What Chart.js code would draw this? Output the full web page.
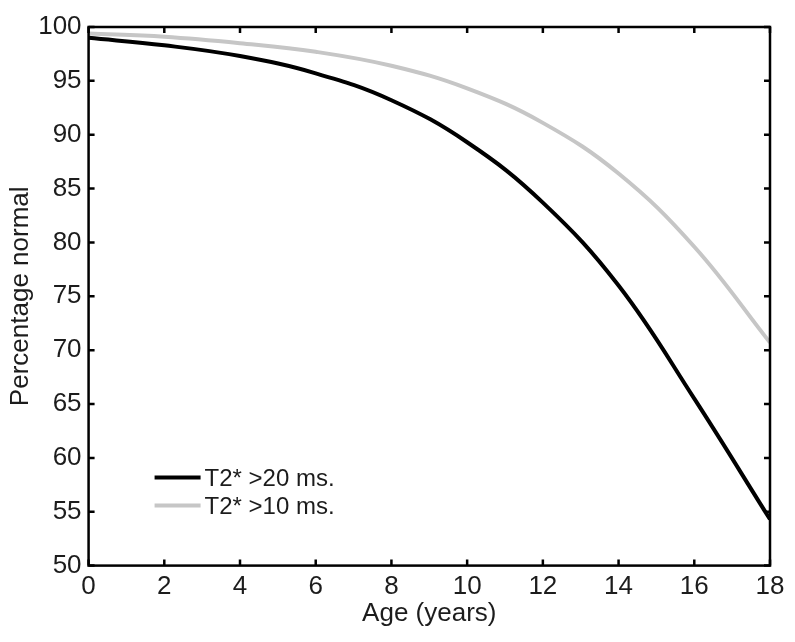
<!DOCTYPE html>
<html>
<head>
<meta charset="utf-8">
<script src="https://cdn.jsdelivr.net/npm/chart.js@4"></script>
<style>
  html, body { margin: 0; padding: 0; background: #fff; }
  #wrap { width: 795px; height: 642px; }
</style>
</head>
<body>
<div id="wrap"><canvas id="ageChart" width="795" height="642"></canvas></div>
<script>
// values
const ages = [0, 2, 4, 6, 8, 10, 12, 14, 16, 18];
const over20 = [99.0, 98.3, 97.3, 95.7, 93.2, 89.3, 83.7, 76.0, 65.5, 54.3];
const over10 = [99.4, 99.1, 98.5, 97.7, 96.4, 94.3, 91.1, 86.4, 79.6, 70.7];
const seriesNames = ['T2* >20 ms.', 'T2* >10 ms.'];
const xTicks = [0, 2, 4, 6, 8, 10, 12, 14, 16, 18];
const yTicks = [50, 55, 60, 65, 70, 75, 80, 85, 90, 95, 100];

const FONT = "'Liberation Sans', Arial, sans-serif";
const INK = '#1c1c1c';

const toPoints = (vals) => vals.map((v, i) => ({ x: ages[i], y: v }));

// MATLAB style box with inward ticks on all four sides
const boxTicks = {
  id: 'boxTicks',
  afterDatasetsDraw(chart) {
    const { ctx, chartArea: a, scales } = chart;
    const len = 6;
    ctx.save();
    ctx.strokeStyle = '#000';
    ctx.lineWidth = 2.5;
    ctx.beginPath();
    xTicks.forEach(v => {
      const px = scales.x.getPixelForValue(v);
      ctx.moveTo(px, a.bottom); ctx.lineTo(px, a.bottom - len);
      ctx.moveTo(px, a.top); ctx.lineTo(px, a.top + len);
    });
    yTicks.forEach(v => {
      const py = scales.y.getPixelForValue(v);
      ctx.moveTo(a.left, py); ctx.lineTo(a.left + len, py);
      ctx.moveTo(a.right, py); ctx.lineTo(a.right - len, py);
    });
    ctx.stroke();
    ctx.strokeRect(a.left, a.top, a.right - a.left, a.bottom - a.top);
    ctx.restore();
  }
};

// legend sits inside the plot, lower left
const innerLegend = {
  id: 'innerLegend',
  afterDatasetsDraw(chart) {
    const { ctx, chartArea: a } = chart;
    const x0 = a.left + 66;
    let y = a.bottom - 88;
    ctx.save();
    ctx.font = '24px ' + FONT;
    ctx.textBaseline = 'middle';
    chart.data.datasets.forEach(ds => {
      ctx.strokeStyle = ds.borderColor;
      ctx.lineWidth = ds.borderWidth;
      ctx.beginPath();
      ctx.moveTo(x0, y);
      ctx.lineTo(x0 + 46, y);
      ctx.stroke();
      ctx.fillStyle = INK;
      ctx.fillText(ds.label, x0 + 50, y + 2);
      y += 28;
    });
    ctx.restore();
  }
};

new Chart(document.getElementById('ageChart'), {
  type: 'line',
  data: {
    datasets: [
      {
        label: seriesNames[0],
        data: toPoints(over20),
        borderColor: '#000',
        borderWidth: 4,
        pointRadius: 0,
        tension: 0.4
      },
      {
        label: seriesNames[1],
        data: toPoints(over10),
        borderColor: '#c6c6c6',
        borderWidth: 4,
        pointRadius: 0,
        tension: 0.4
      }
    ]
  },
  options: {
    responsive: false,
    animation: false,
    layout: { padding: { top: 27, right: 25, left: 0, bottom: 13 } },
    plugins: {
      legend: { display: false },
      tooltip: { enabled: false }
    },
    scales: {
      x: {
        type: 'linear',
        min: 0,
        max: 18,
        afterBuildTicks: (s) => { s.ticks = xTicks.map(v => ({ value: v })); },
        grid: { display: false, drawTicks: false },
        border: { display: false },
        ticks: { color: INK, font: { family: FONT, size: 26 }, padding: 6, maxRotation: 0 },
        title: {
          display: true,
          text: 'Age (years)',
          color: INK,
          font: { family: FONT, size: 26 },
          padding: { top: -11, bottom: 0 }
        }
      },
      y: {
        min: 50,
        max: 100,
        afterBuildTicks: (s) => { s.ticks = yTicks.map(v => ({ value: v })); },
        grid: { display: false, drawTicks: false },
        border: { display: false },
        ticks: { color: INK, font: { family: FONT, size: 26 }, padding: 7 },
        title: {
          display: true,
          text: 'Percentage normal',
          color: INK,
          font: { family: FONT, size: 26 },
          padding: { top: 5, bottom: -5 }
        }
      }
    }
  },
  plugins: [boxTicks, innerLegend]
});
</script>
</body>
</html>
